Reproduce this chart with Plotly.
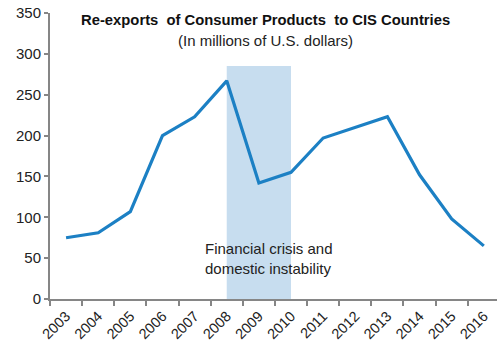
import plotly.graph_objects as go

years = ["2003", "2004", "2005", "2006", "2007", "2008", "2009",
         "2010", "2011", "2012", "2013", "2014", "2015", "2016"]
reexports = [75, 81, 107, 200, 223, 267, 142, 155, 197, 210, 223, 152, 98, 65]

crisis_start = 5   # index of 2008
crisis_end = 7     # index of 2010
crisis_top = 285

font_family = "Liberation Sans, Arial, sans-serif"

fig = go.Figure()
fig.add_trace(go.Scatter(
    x=years, y=reexports, mode="lines",
    line=dict(color="#1c80c4", width=3.2),
    hoverinfo="x+y",
))

fig.add_shape(
    type="rect", xref="x", yref="y",
    x0=crisis_start, x1=crisis_end, y0=0, y1=crisis_top,
    fillcolor="#c7ddef", line=dict(width=0), layer="below",
)

fig.add_annotation(
    x=4.27, y=50, xref="x", yref="y", xanchor="left", yanchor="middle",
    text="Financial crisis and<br>domestic instability", showarrow=False,
    align="left", font=dict(size=15, color="#222222", family=font_family),
)

fig.add_annotation(
    x=0.481, y=0.975, xref="paper", yref="paper", xanchor="center", yanchor="middle",
    text="<b>Re-exports  of Consumer Products  to CIS Countries</b>", showarrow=False,
    font=dict(size=14.8, color="#111111", family=font_family),
)
fig.add_annotation(
    x=0.481, y=0.905, xref="paper", yref="paper", xanchor="center", yanchor="middle",
    text="(In millions of U.S. dollars)", showarrow=False,
    font=dict(size=15, color="#222222", family=font_family),
)

fig.update_layout(
    width=497, height=343,
    margin=dict(l=50, r=0, t=13, b=44),
    paper_bgcolor="white", plot_bgcolor="white",
    showlegend=False,
    font=dict(family=font_family, size=15, color="#222222"),
    xaxis=dict(
        type="category", range=[-0.5, 13.41], tickson="boundaries",
        ticks="outside", ticklen=5, tickcolor="#868686", tickwidth=2,
        showline=True, linecolor="#868686", linewidth=2,
        showgrid=False, tickangle=-45, zeroline=False,
        ticklabelstandoff=1, automargin=False,
        tickfont=dict(size=14.5, color="#222222"),
    ),
    yaxis=dict(
        range=[0, 350], dtick=50, ticks="outside", ticklen=4,
        tickcolor="#868686", tickwidth=2,
        showline=True, linecolor="#868686", linewidth=2,
        showgrid=False, zeroline=False, automargin=False,
        tickfont=dict(size=15, color="#222222"),
    ),
)

fig.write_html("out.html")
